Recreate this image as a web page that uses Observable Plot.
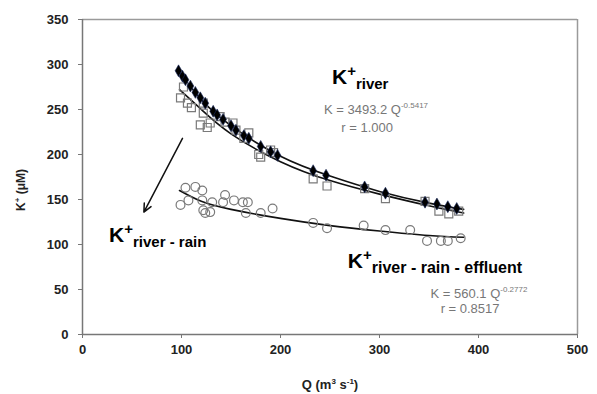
<!DOCTYPE html>
<html><head><meta charset="utf-8">
<script src="https://cdn.jsdelivr.net/npm/d3@7"></script>
<script src="https://cdn.jsdelivr.net/npm/@observablehq/plot@0.6"></script>
<style>
body{margin:0;background:#fff}
#chart svg{font-family:"Liberation Sans",Arial,sans-serif}
</style>
</head><body><div id="chart"></div>
<script>
// ---- data ----
const xTicks = [0, 100, 200, 300, 400, 500];
const yTicks = [0, 50, 100, 150, 200, 250, 300, 350];

// K+ river (filled diamonds)
const riverQ = [97,101,104,109,114,119,124,132,136,142,150,155,163,168,180,190,197,233,246,285,306,346,358,369,378];
const riverK = [293,287,283,276,269,263,257,248,244,239,232,227,221,218,209,203,199,182,177,164,157,147,145,142,140];

// K+ river - rain (open squares)
const rainQ = [99,102,106,110,119,122,122,126,129,139,144,152,155,163,168,178,180,190,193,233,247,285,306,346,360,370,380];
const rainK = [263,275,257,252,233,257,246,230,235,242,236,235,227,218,224,200,197,205,202,173,165,162,151,148,137,134,137];

// K+ river - rain - effluent (open circles)
const effQ = [99,104,107,114,121,121,122,124,129,131,142,144,153,162,167,165,180,192,233,247,284,306,331,348,362,369,382];
const effK = [144,163,149,164,160,149,138,135,136,147,147,155,149,147,147,135,135,140,124,118,121,116,116,104,104,104,107];

// fitted curves
const fitQ = [98,120,150,200,250,300,350,385];
const fitRiverK = [291,261,232,198,176,159,146,139];
const fitRainK  = [272,250,223,192,171,156,143,135];
const fitEffK   = [160,148,139,129,121,115,110,108];

// arrow (data units)
const arrowQ1 = [101], arrowK1 = [218], arrowQ2 = [62], arrowK2 = [136];

const toRows = (qs, ks) => qs.map((q, i) => ({q, k: ks[i]}));

const plot = Plot.plot({
  width: 597, height: 394,
  marginLeft: 82, marginRight: 20, marginTop: 19, marginBottom: 60,
  style: {fontFamily: '"Liberation Sans", Arial, sans-serif', fontSize: "13px", fontWeight: "bold", color: "#222", background: "#fff", overflow: "visible"},
  x: {domain: [0, 500], label: null},
  y: {domain: [0, 350], label: null},
  marks: [
    Plot.ruleY([350], {stroke: "#9a9a9a", strokeWidth: 1.5}),
    Plot.ruleX([500], {stroke: "#9a9a9a", strokeWidth: 1.5}),
    Plot.axisX({ticks: xTicks, tickSize: 4, tickPadding: 6, stroke: "#777", label: null}),
    Plot.axisY({ticks: yTicks, tickSize: 4, tickPadding: 10, stroke: "#777", label: null}),
    Plot.ruleX([0], {stroke: "#777", strokeWidth: 1.5}),
    Plot.ruleY([0], {stroke: "#777", strokeWidth: 1.5}),
    Plot.line(toRows(fitQ, fitRiverK), {x: "q", y: "k", curve: "natural", stroke: "#111", strokeWidth: 1.6}),
    Plot.line(toRows(fitQ, fitRainK), {x: "q", y: "k", curve: "natural", stroke: "#111", strokeWidth: 1.6}),
    Plot.line(toRows(fitQ, fitEffK), {x: "q", y: "k", curve: "natural", stroke: "#111", strokeWidth: 1.6}),
    Plot.dot(toRows(rainQ, rainK), {x: "q", y: "k", symbol: "square", r: 4.5, fill: "none", stroke: "#7a7a7a", strokeWidth: 1.2}),
    Plot.dot(toRows(effQ, effK), {x: "q", y: "k", symbol: "circle", r: 4.4, fill: "none", stroke: "#7a7a7a", strokeWidth: 1.2}),
    Plot.dot(toRows(riverQ, riverK), {x: "q", y: "k", symbol: "diamond", r: 3.6, fill: "#000", stroke: "#1a2a60", strokeWidth: 0.6}),
    Plot.arrow(arrowQ1.map((q, i) => ({x1: q, y1: arrowK1[i], x2: arrowQ2[i], y2: arrowK2[i]})),
      {x1: "x1", y1: "y1", x2: "x2", y2: "y2", stroke: "#111", strokeWidth: 1.5, headLength: 9, headAngle: 50})
  ]
});
document.getElementById("chart").appendChild(plot);

// ---- annotations with sub/superscripts ----
const sx = plot.scale("x"), sy = plot.scale("y");
const svg = d3.select(plot);
function rich(q, k, anchor, parts) {
  const t = svg.append("text")
    .attr("x", sx.apply(q)).attr("y", sy.apply(k))
    .attr("text-anchor", anchor)
    .attr("font-family", '"Liberation Sans", Arial, sans-serif');
  for (const p of parts) {
    t.append("tspan").attr("font-size", p.size).attr("font-weight", p.weight || "normal")
      .attr("fill", p.fill || "#000").attr("dy", p.dy || 0).text(p.text);
  }
  return t;
}
// annotation placements (data units) and texts
const labels = [
  {q: 252.5, k: 277.5, base: "K", sup: "+", sub: "river", subSize: 15},
  {q: 27.3, k: 102.5, base: "K", sup: "+", sub: "river - rain", subSize: 15},
  {q: 268.5, k: 73.5, base: "K", sup: "+", sub: "river - rain - effluent", subSize: 16}
];
for (const L of labels) {
  rich(L.q, L.k, "start", [
    {text: L.base, size: 21, weight: "bold"},
    {text: L.sup, size: 15, weight: "bold", dy: -8},
    {text: L.sub, size: L.subSize, weight: "bold", dy: 13}
  ]);
}
const eqs = [
  {q: 297, k: 244, coef: "K = 3493.2 Q", exp: "-0.5417", q2: 288, k2: 225, r: "r = 1.000"},
  {q: 401, k: 39.5, coef: "K = 560.1 Q", exp: "-0.2772", q2: 392, k2: 23.5, r: "r = 0.8517"}
];
for (const E of eqs) {
  rich(E.q, E.k, "middle", [
    {text: E.coef, size: 13, fill: "#777"},
    {text: E.exp, size: 8, fill: "#777", dy: -6}
  ]);
  rich(E.q2, E.k2, "middle", [{text: E.r, size: 13, fill: "#777"}]);
}
// axis titles
svg.append("text").attr("x", 330).attr("y", 389).attr("text-anchor", "middle")
  .attr("font-size", 13).attr("font-weight", "bold").attr("fill", "#222")
  .call(t => {
    t.append("tspan").text("Q (m");
    t.append("tspan").attr("font-size", 8).attr("dy", -5).text("3");
    t.append("tspan").attr("dy", 5).text(" s");
    t.append("tspan").attr("font-size", 8).attr("dy", -5).text("-1");
    t.append("tspan").attr("dy", 5).text(")");
  });
svg.append("text").attr("transform", "translate(25,190) rotate(-90)").attr("text-anchor", "middle")
  .attr("font-size", 12).attr("font-weight", "bold").attr("fill", "#222")
  .call(t => {
    t.append("tspan").text("K");
    t.append("tspan").attr("font-size", 8).attr("dy", -5).text("+");
    t.append("tspan").attr("dy", 5).text(" (\u03bcM)");
  });
</script>
</body></html>
